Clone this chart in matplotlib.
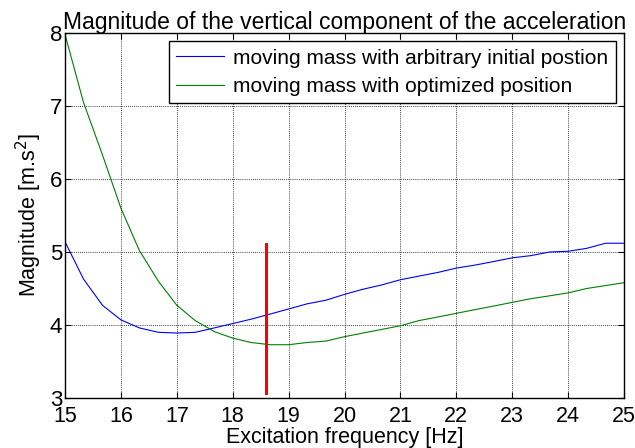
import matplotlib
matplotlib.use("Agg")
import matplotlib.pyplot as plt
import numpy as np

# frequency samples (Hz), one every third of a Hz
freq = [15.00, 15.33, 15.67, 16.00, 16.33, 16.67, 17.00, 17.33, 17.67, 18.00,
        18.33, 18.67, 19.00, 19.33, 19.67, 20.00, 20.33, 20.67, 21.00, 21.33,
        21.67, 22.00, 22.33, 22.67, 23.00, 23.33, 23.67, 24.00, 24.33, 24.67,
        25.00]

# moving mass with arbitrary initial position
arbitrary = [5.14, 4.63, 4.27, 4.07, 3.96, 3.90, 3.89, 3.90, 3.96, 4.02,
             4.08, 4.15, 4.22, 4.29, 4.34, 4.42, 4.49, 4.55, 4.62, 4.67,
             4.72, 4.78, 4.82, 4.87, 4.92, 4.95, 5.00, 5.01, 5.05, 5.12,
             5.12]

# moving mass with optimized position
optimized = [7.98, 7.05, 6.33, 5.60, 5.02, 4.60, 4.27, 4.06, 3.91, 3.82,
             3.76, 3.73, 3.73, 3.76, 3.78, 3.84, 3.89, 3.94, 3.99, 4.06,
             4.11, 4.16, 4.21, 4.26, 4.31, 4.36, 4.40, 4.44, 4.50, 4.54,
             4.58]

# red marker
marker_freq = 18.6
marker_range = (3.07, 5.11)

labels = ['moving mass with arbitrary initial postion',
          'moving mass with optimized position']
xticks = list(range(15, 26))
yticks = [3, 4, 5, 6, 7, 8]

plt.rcParams['font.family'] = ['Liberation Sans', 'DejaVu Sans']

fig = plt.figure(figsize=(6.35, 4.48), dpi=100)
ax = fig.add_axes([0.1024, 0.1116, 0.8803, 0.8147])

ax.plot(freq, arbitrary, color='#0000ff', lw=0.8, label=labels[0])
ax.plot(freq, optimized, color='#008000', lw=0.8, label=labels[1])
ax.plot([marker_freq, marker_freq], marker_range, color='#ff0000', lw=2.2)

ax.set_xlim(15, 25)
ax.set_ylim(3, 8)
ax.set_xticks(xticks)
ax.set_yticks(yticks)
ax.tick_params(direction='in', top=True, right=True,
               length=4, width=0.8)
ax.tick_params(axis='x', pad=6, labelsize=15.5)
ax.tick_params(axis='y', pad=2, labelsize=16)
ax.grid(True, color='black', linestyle=(0, (1, 1.5)), linewidth=0.6)
for s in ax.spines.values():
    s.set_linewidth(1.0)

ax.set_title('Magnitude of the vertical component of the acceleration',
             fontsize=16.5, pad=3)
ax.set_xlabel('Excitation frequency [Hz]', fontsize=15.5, labelpad=0)
ax.set_ylabel('Magnitude [m.s$^{2}$]', fontsize=15.5, labelpad=4)

leg = ax.legend(loc='upper right', fontsize=15, fancybox=False,
                edgecolor='black', framealpha=1, borderaxespad=0.4,
                handlelength=2.3, handletextpad=0.45, borderpad=0.35,
                labelspacing=0.45)
leg.get_frame().set_linewidth(1.0)

fig.savefig('out.png', dpi=100)
